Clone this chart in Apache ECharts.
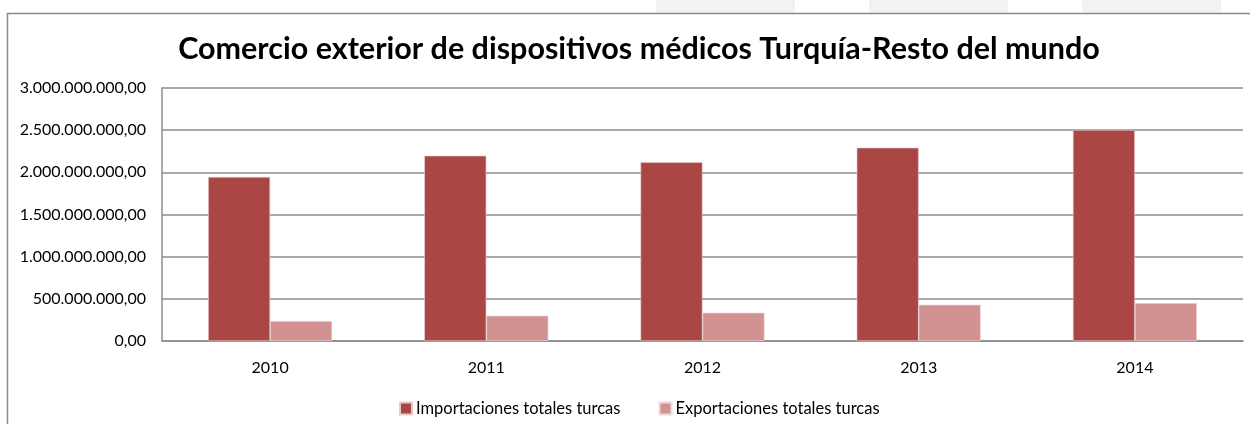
<!DOCTYPE html>
<html>
<head>
<meta charset="utf-8">
<script src="https://cdn.jsdelivr.net/npm/echarts@6/dist/echarts.min.js"></script>
<style>
html,body{margin:0;padding:0;background:#fff;}
#chart{width:1250px;height:424px;}
</style>
</head>
<body>
<div id="chart"></div>
<script>
const titleText = 'Comercio exterior de dispositivos médicos Turquía-Resto del mundo';
const categories = ['2010', '2011', '2012', '2013', '2014'];
const seriesNames = ['Importaciones totales turcas', 'Exportaciones totales turcas'];
const importaciones = [1945000000, 2197000000, 2119000000, 2292000000, 2502000000];
const exportaciones = [237000000, 300000000, 336000000, 430000000, 450000000];

function fmt(v) {
  const s = Math.round(v).toString().replace(/\B(?=(\d{3})+(?!\d))/g, '.');
  return s + ',00';
}

const chart = echarts.init(document.getElementById('chart'), null, {renderer: 'canvas'});
chart.setOption({
  backgroundColor: '#ffffff',
  animation: false,
  textStyle: {fontFamily: 'Lato'},
  title: {
    text: titleText,
    left: 634, top: 29, textAlign: 'center',
    textStyle: {fontFamily: 'Lato', fontWeight: 'bold', fontSize: 30.5, color: '#000'}
  },
  graphic: [
    {type: 'rect', shape: {x: 656, y: 0, width: 139, height: 13}, style: {fill: '#f2f2f2'}, silent: true},
    {type: 'rect', shape: {x: 869, y: 0, width: 139, height: 13}, style: {fill: '#f2f2f2'}, silent: true},
    {type: 'rect', shape: {x: 1082, y: 0, width: 139, height: 13}, style: {fill: '#f2f2f2'}, silent: true},
    {type: 'polyline', shape: {points: [[7.5, 424], [7.5, 13.5], [1250, 13.5]]}, style: {stroke: '#8a8a8a', lineWidth: 1.5, fill: null}, silent: true}
  ],
  legend: {
    data: seriesNames,
    left: 394, top: 395,
    itemWidth: 12, itemHeight: 12, itemGap: 38,
    icon: 'rect',
    textStyle: {fontFamily: 'Lato', fontSize: 16.5, color: '#000', padding: [0, 0, 0, -1]}
  },
  grid: {left: 162, right: 7, top: 88, bottom: 83, containLabel: false},
  xAxis: {
    type: 'category',
    data: categories,
    axisLine: {lineStyle: {color: '#8c8c8c', width: 1.5}},
    axisTick: {show: false},
    axisLabel: {fontFamily: 'Lato', fontSize: 16, color: '#000', margin: 19}
  },
  yAxis: {
    type: 'value',
    min: 0, max: 3000000000, interval: 500000000,
    axisLine: {show: true, lineStyle: {color: '#8c8c8c', width: 1.5}},
    axisTick: {show: false},
    splitLine: {lineStyle: {color: '#8c8c8c', width: 1.5}},
    axisLabel: {fontFamily: 'Lato', fontSize: 16, color: '#000', margin: 16, formatter: fmt}
  },
  series: [
    {
      name: seriesNames[0], type: 'bar', data: importaciones,
      barWidth: 62, barGap: '0%',
      itemStyle: {color: '#AA4744', borderColor: '#e8cccc', borderWidth: 0.6}
    },
    {
      name: seriesNames[1], type: 'bar', data: exportaciones,
      barWidth: 62, barGap: '0%',
      itemStyle: {color: '#D19291', borderColor: '#f0dada', borderWidth: 0.6}
    }
  ]
});
</script>
</body>
</html>
